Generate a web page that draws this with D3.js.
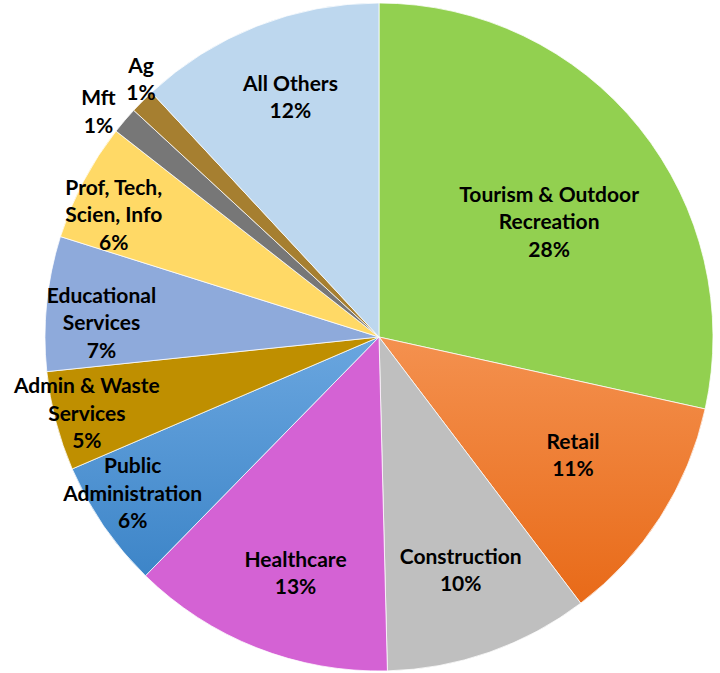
<!DOCTYPE html>
<html>
<head>
<meta charset="utf-8">
<script src="https://cdn.jsdelivr.net/npm/d3@7"></script>
<style>
  html, body { margin: 0; padding: 0; background: #fff; }
  svg { display: block; }
</style>
</head>
<body>
<svg id="chart" width="720" height="673"></svg>
<script>
// ---- data ----
const categories = [
  "Tourism & Outdoor Recreation", "Retail", "Construction", "Healthcare",
  "Public Administration", "Admin & Waste Services", "Educational Services",
  "Prof, Tech, Scien, Info", "Mft", "Ag", "All Others"
];
const labelLines = [
  ["Tourism & Outdoor", "Recreation"],
  ["Retail"],
  ["Construction"],
  ["Healthcare"],
  ["Public", "Administration"],
  ["Admin & Waste", "Services"],
  ["Educational", "Services"],
  ["Prof, Tech,", "Scien, Info"],
  ["Mft"],
  ["Ag"],
  ["All Others"]
];
const values = [28.4, 11.2, 9.9, 12.7, 6.2, 4.8, 6.5, 5.7, 1.3, 1.2, 11.9];

// ---- style / layout ----
const colors = [
  ["#92d050", "#92d050"],
  ["#f4914f", "#e86a18"],
  ["#bfbfbf", "#bfbfbf"],
  ["#d462d4", "#d462d4"],
  ["#6aa6df", "#3d85c8"],
  ["#bf8f00", "#bf8f00"],
  ["#8eaadb", "#8eaadb"],
  ["#ffd966", "#ffd966"],
  ["#777777", "#777777"],
  ["#a67f30", "#a67f30"],
  ["#bdd7ee", "#bdd7ee"]
];
// label placement: radius as fraction of pie radius, angular nudge in degrees
const labelRadiusFactor = [0.615, 0.68, 0.74, 0.75, 0.874, 0.904, 0.832, 0.874, 1.078, 1.051, 0.766];
const labelAngleNudge  = [4.7, -1.3, 0, -2, 2, 0, -2.9, -3.1, -1.6, 2.4, 1.2];
const cx = 379, cy = 337, R = 334;
const lineH = 27.5;

const svg = d3.select("#chart");
const defs = svg.append("defs");
colors.forEach((c, i) => {
  const g = defs.append("linearGradient")
    .attr("id", "grad" + i)
    .attr("x1", 0).attr("y1", 0).attr("x2", 0).attr("y2", 1);
  g.append("stop").attr("offset", "0%").attr("stop-color", c[0]);
  g.append("stop").attr("offset", "100%").attr("stop-color", c[1]);
});

const total = d3.sum(values);
const pie = d3.pie().sort(null).value(d => d)(values);
const arc = d3.arc().innerRadius(0).outerRadius(R);

const g = svg.append("g").attr("transform", `translate(${cx},${cy})`);
g.selectAll("path.slice")
  .data(pie)
  .join("path")
  .attr("class", "slice")
  .attr("d", arc)
  .attr("fill", (d, i) => `url(#grad${i})`)
  .attr("stroke", "#ffffff")
  .attr("stroke-width", 0.75)
  .attr("stroke-linejoin", "round");

const labels = g.selectAll("text.lbl")
  .data(pie)
  .join("text")
  .attr("class", "lbl")
  .attr("text-anchor", "middle")
  .attr("font-family", "Lato, 'Open Sans', sans-serif")
  .attr("font-weight", "bold")
  .attr("font-size", "21px")
  .attr("fill", "#000");

labels.each(function(d, i) {
  const a = (d.startAngle + d.endAngle) / 2 + labelAngleNudge[i] * Math.PI / 180;
  const r = R * labelRadiusFactor[i];
  const x = Math.sin(a) * r;
  const y = -Math.cos(a) * r;
  const lines = labelLines[i].concat([Math.round(d.value / total * 100) + "%"]);
  const y0 = y - (lines.length - 1) * lineH / 2;
  const t = d3.select(this);
  lines.forEach((ln, k) => {
    t.append("tspan")
      .attr("x", x)
      .attr("y", y0 + k * lineH)
      .attr("dy", "0.35em")
      .text(ln);
  });
});
</script>
</body>
</html>
